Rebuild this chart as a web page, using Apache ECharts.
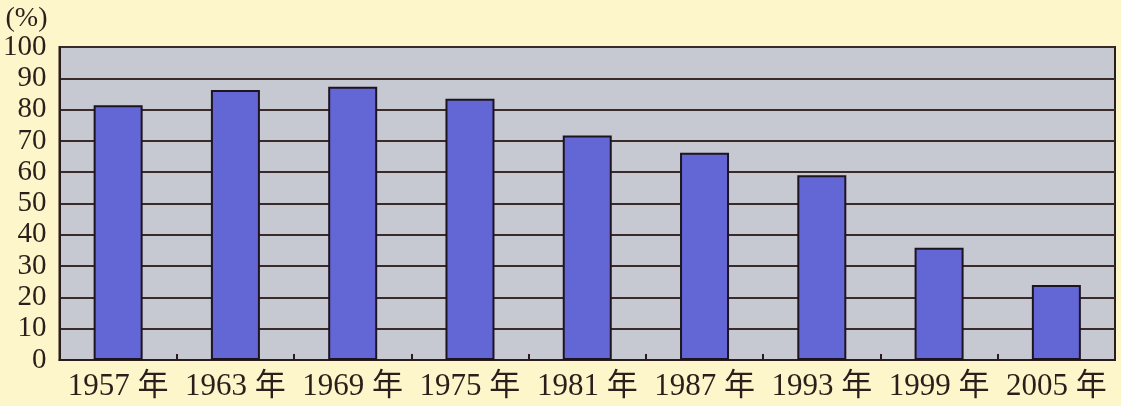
<!DOCTYPE html>
<html><head><meta charset="utf-8">
<script src="https://cdn.jsdelivr.net/npm/echarts@6/dist/echarts.min.js"></script>
<style>html,body{margin:0;padding:0;background:#fdf6cb;}#c{width:1121px;height:406px;}</style>
</head><body><div id="c"></div>
<script>
const categories = ['1957 年','1963 年','1969 年','1975 年','1981 年','1987 年','1993 年','1999 年','2005 年'];
const values = [81.4, 86.3, 87.3, 83.5, 71.7, 66.2, 59.0, 35.9, 24.0];
const yTicks = {min: 0, max: 100, interval: 10};
const chart = echarts.init(document.getElementById('c'));
const font = '"Liberation Serif","Noto Sans CJK SC",serif';
chart.setOption({
  backgroundColor: '#fdf6cb',
  animation: false,
  grid: {left: 58, right: 6, top: 47, bottom: 46, show: true, backgroundColor: '#c6c8d2', borderColor: '#2a1c1c', borderWidth: 2},
  xAxis: {
    type: 'category', data: categories,
    axisLine: {show: true, lineStyle: {color: '#2a1c1c', width: 2}},
    axisTick: {show: true, inside: true, length: 6, lineStyle: {color: '#2a1c1c', width: 2}},
    axisLabel: {color: '#2a1f1a', fontSize: 31, fontFamily: font, margin: 11, interval: 0}
  },
  yAxis: {
    type: 'value', min: yTicks.min, max: yTicks.max, interval: yTicks.interval,
    name: '(%)', nameLocation: 'end', nameGap: 14,
    nameTextStyle: {color: '#2a1f1a', fontSize: 28, fontFamily: font, align: 'right', padding: [0, 12, 0, 0]},
    axisLine: {show: true, lineStyle: {color: '#2a1c1c', width: 2}},
    axisTick: {show: false},
    axisLabel: {color: '#2a1f1a', fontSize: 29, fontFamily: font, margin: 13},
    splitLine: {show: true, lineStyle: {color: '#3a2a2a', width: 2}}
  },
  series: [{
    type: 'bar', data: values, barWidth: 49,
    itemStyle: {color: '#6367d6', borderColor: '#1e1420', borderWidth: 2}
  }]
});
</script></body></html>
